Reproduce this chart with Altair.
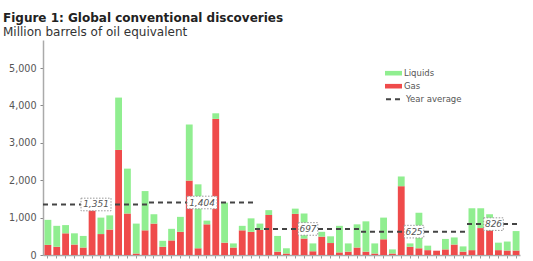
import altair as alt
import pandas as pd

# Monthly discoveries (million boe)
gas = [270, 220, 580, 280, 200, 1240, 560, 680, 2810, 1110, 40, 660,
       840, 220, 390, 620, 1990, 180, 820, 3640, 330, 200, 660, 620,
       670, 1070, 90, 40, 1100, 440, 100, 490, 320, 70, 90, 200,
       90, 40, 420, 40, 1840, 220, 180, 130, 115, 150, 280, 90,
       130, 720, 660, 130, 120, 120]
liquids = [670, 560, 220, 300, 310, 10, 440, 380, 1400, 1200, 800, 1050,
           250, 160, 310, 400, 1500, 1710, 100, 150, 1070, 110, 120, 360,
           170, 130, 420, 140, 140, 670, 210, 130, 180, 710, 220, 620,
           810, 270, 580, 110, 260, 90, 950, 120, 0, 280, 190, 140,
           1120, 530, 430, 200, 240, 520]
series_names = ["Liquids", "Gas"]
year_avg = [1351, 1404, 697, 625, 826]
year_start = [0, 12, 24, 36, 48]
year_end = [12, 24, 36, 48, 54]
avg_name = "Year average"
y_ticks = [0, 1000, 2000, 3000, 4000, 5000]

GREEN = "#90ee90"
RED = "#ef4b4b"
FONT = "DejaVu Sans"

n = len(gas)
rows = []
for i in range(n):
    rows.append({"i": i, "i2": i + 1, "series": "Gas", "value": gas[i], "ord": 0})
    rows.append({"i": i, "i2": i + 1, "series": "Liquids", "value": liquids[i], "ord": 1})
bars_df = pd.DataFrame(rows)

avg_df = pd.DataFrame({"start": year_start, "end": year_end, "avg": year_avg})
avg_df["kind"] = avg_name
avg_df["mid"] = (avg_df["start"] + avg_df["end"]) / 2
avg_df["label"] = avg_df["avg"].map(lambda v: f"{v:,}")


def box_width(label):
    return 5.2 * len(label) + 4


def box_path(label):
    hy = 12.6 / box_width(label)
    return f"M-1,-{hy:.4f}H1V{hy:.4f}H-1Z"


avg_df["shape"] = avg_df["label"].map(box_path)
avg_df["size"] = avg_df["label"].map(lambda s: box_width(s) ** 2)

x_scale = alt.Scale(domain=[0, n], nice=False, zero=False)
y_scale = alt.Scale(domain=[0, 5750], nice=False)

x_axis = alt.Axis(values=[k + 0.5 for k in range(n)], labels=False, title=None,
                  tickSize=3, tickColor="#999", domainColor="#aaa", domainWidth=1.5,
                  grid=False)
y_axis = alt.Axis(values=y_ticks, labelExpr="format(datum.value, ',')", title=None,
                  grid=False, labelFont=FONT, labelFontSize=9.6, labelColor="#555",
                  tickSize=3, tickColor="#888", labelPadding=4,
                  domainColor="#aaa", domainWidth=1.5)

bars = alt.Chart(bars_df).mark_bar(binSpacing=2).encode(
    x=alt.X("i:Q", bin="binned", scale=x_scale, axis=x_axis),
    x2="i2:Q",
    y=alt.Y("value:Q", stack="zero", scale=y_scale, axis=y_axis),
    color=alt.Color("series:N", scale=alt.Scale(domain=series_names, range=[GREEN, RED]),
                    legend=alt.Legend(title=None, orient="none", legendX=342, legendY=24.7,
                                      symbolType="M-1,-0.27H1V0.27H-1Z", symbolSize=289,
                                      symbolStrokeWidth=0, labelFont=FONT, labelFontSize=8.5,
                                      labelColor="#555", labelOffset=2, rowPadding=0,
                                      padding=0)),
    order=alt.Order("ord:Q"),
)

rules = alt.Chart(avg_df).mark_rule(strokeWidth=2, color="#444").encode(
    x=alt.X("start:Q", scale=x_scale, axis=x_axis),
    x2="end:Q",
    y=alt.Y("avg:Q", scale=y_scale, axis=y_axis),
    strokeDash=alt.StrokeDash("kind:N", scale=alt.Scale(domain=[avg_name], range=[[5, 4]]),
                              legend=alt.Legend(title=None, orient="none", legendX=342,
                                                legendY=49.7, symbolType="stroke",
                                                symbolSize=289, symbolStrokeColor="#444",
                                                symbolStrokeWidth=2, labelFont=FONT,
                                                labelFontSize=8.5, labelColor="#555",
                                                labelOffset=2, padding=0)),
)

boxes = alt.Chart(avg_df).mark_point(filled=True, fill="white", stroke="#999",
                                     strokeWidth=1, strokeDash=[1.5, 1.5], opacity=1).encode(
    x=alt.X("mid:Q", scale=x_scale, axis=x_axis),
    y=alt.Y("avg:Q", scale=y_scale, axis=y_axis),
    shape=alt.Shape("shape:N", scale=None, legend=None),
    size=alt.Size("size:Q", scale=None, legend=None),
)

labels = alt.Chart(avg_df).mark_text(font=FONT, fontSize=9, fontStyle="italic",
                                     color="#555").encode(
    x=alt.X("mid:Q", scale=x_scale, axis=x_axis),
    y=alt.Y("avg:Q", scale=y_scale, axis=y_axis),
    text="label:N",
)

chart = alt.layer(bars, rules, boxes, labels).resolve_legend(
    color="independent", strokeDash="independent"
).properties(
    width=477,
    height=215,
    autosize=alt.AutoSizeParams(type="none"),
    padding={"left": 43, "top": 40, "right": 13, "bottom": 6},
    background="white",
    title=alt.TitleParams(
        text="Figure 1: Global conventional discoveries",
        subtitle="Million barrels of oil equivalent",
        anchor="start", frame="group", dx=-40, offset=1,
        font=FONT, fontSize=12, fontWeight="bold", color="#222",
        subtitleFont=FONT, subtitleFontSize=12, subtitleColor="#333", subtitlePadding=2,
    ),
).configure_view(strokeWidth=0)

chart.save("out.html", embed_options={"renderer": "svg", "actions": False})
